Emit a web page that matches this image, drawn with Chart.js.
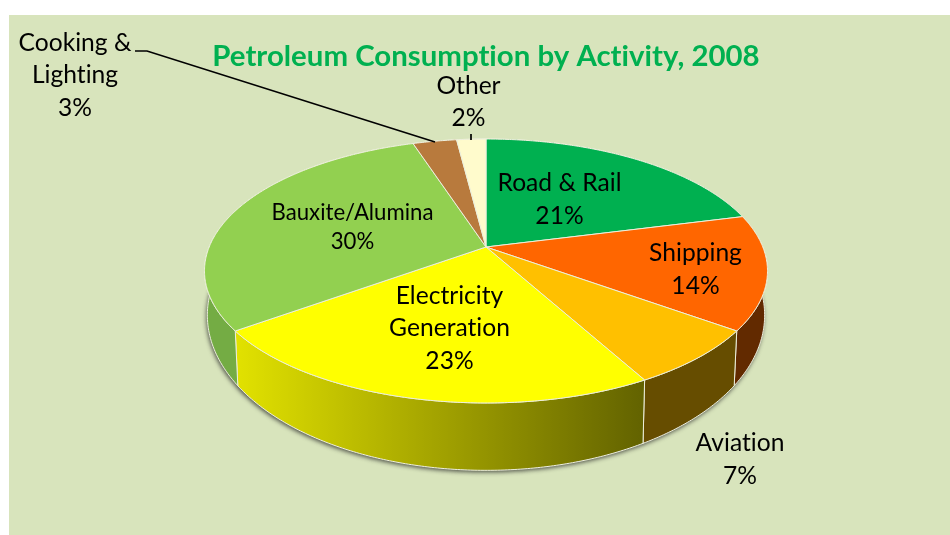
<!DOCTYPE html>
<html>
<head>
<meta charset="utf-8">
<script src="https://cdn.jsdelivr.net/npm/chart.js@4"></script>
<style>
    body { margin: 0; background: #fff; }
    #panel { position: absolute; left: 9px; top: 15px; width: 941px; height: 520px; background: #D8E4BC; }
    #chart { position: absolute; left: 0; top: 0; }
</style>
</head>
<body>
<div id="panel"></div>
<canvas id="chart" width="950" height="535"></canvas>
<script>
const categories = ['Road & Rail', 'Shipping', 'Aviation', 'Electricity Generation', 'Bauxite/Alumina', 'Cooking & Lighting', 'Other'];
const shares = [21, 14, 7, 23, 30, 3, 2];
const topColors = ['#00B050', '#FF6600', '#FFC000', '#FFFF00', '#92D050', '#B87A3D', '#FFFBCC'];
const wallColors = ['#005828', '#622A00', '#664D00', ['#E2E200', '#626200'], '#74AC44', '#5C3D1E', '#807D66'];
const labelLines = [['Road & Rail'], ['Shipping'], ['Aviation'], ['Electricity', 'Generation'], ['Bauxite/Alumina'], ['Cooking &', 'Lighting'], ['Other']];
const labelAnchors = [[559.5, 183, 33], [695.5, 253, 33], [740, 443, 33], [449.5, 296, 32.5], [352.5, 213, 29], [75, 43, 32.5], [468.5, 86, 32]];
const labelSizes = [24.6, 24.6, 24.6, 24.6, 22.2, 24.6, 24.6];

// perspective projection of the pie disc, top face and bottom face
const topFace = { cx: 486, cy: 247, rx: 276.8, ry: 127.6, k: 0.1818 };
const bottomFace = { cx: 486, cy: 287, rx: 274, ry: 150, k: 0.1818 };

function project(face, a) {
    const u = Math.cos(a), v = Math.sin(a), d = 1 - face.k * v;
    return [face.cx + face.rx * u / d, face.cy + face.ry * v / d];
}

function arcPoints(face, start, end) {
    const pts = [];
    const n = Math.max(2, Math.ceil((end - start) / 0.01));
    for (let i = 0; i <= n; i++) {
        pts.push(project(face, start + (end - start) * i / n));
    }
    return pts;
}

function tracePath(ctx, pts) {
    ctx.beginPath();
    pts.forEach((p, i) => i ? ctx.lineTo(p[0], p[1]) : ctx.moveTo(p[0], p[1]));
    ctx.closePath();
}

const tiltedPie = {
    id: 'tiltedPie',
    beforeDraw(chart) {
        // tiny spacing turns off the "ti" ligature Lato would use
        chart.ctx.letterSpacing = '0.01px';
    },
    beforeDatasetDraw(chart, args) {
        const ctx = chart.ctx;
        const arcs = args.meta.data;
        const edge = '#EDEFDC';
        ctx.save();
        ctx.lineJoin = 'round';

        // soft shadow under the whole pie
        ctx.save();
        ctx.shadowColor = 'rgba(40,40,40,0.75)';
        ctx.shadowBlur = 4;
        ctx.shadowOffsetX = -1;
        ctx.shadowOffsetY = 2;
        ctx.fillStyle = '#888';
        tracePath(ctx, arcPoints(bottomFace, 0, Math.PI * 2));
        ctx.fill();
        ctx.restore();

        arcs.forEach((arc, i) => {
            const top = arcPoints(topFace, arc.startAngle, arc.endAngle);
            const bottom = arcPoints(bottomFace, arc.startAngle, arc.endAngle).reverse();
            let fill = wallColors[i];
            if (Array.isArray(fill)) {
                const g = ctx.createLinearGradient(top[top.length - 1][0], 0, top[0][0], 0);
                g.addColorStop(0, fill[0]);
                g.addColorStop(1, fill[1]);
                fill = g;
            }
            tracePath(ctx, top.concat(bottom));
            ctx.fillStyle = fill;
            ctx.fill();
            ctx.strokeStyle = edge;
            ctx.lineWidth = 1;
            ctx.stroke();
        });

        arcs.forEach((arc, i) => {
            const pts = [[topFace.cx, topFace.cy]].concat(arcPoints(topFace, arc.startAngle, arc.endAngle));
            tracePath(ctx, pts);
            ctx.fillStyle = topColors[i];
            ctx.fill();
            ctx.strokeStyle = edge;
            ctx.lineWidth = 1;
            ctx.stroke();
        });
        ctx.restore();
        return false;
    },
    afterDatasetsDraw(chart) {
        const ctx = chart.ctx;
        ctx.save();

        // leader lines
        ctx.strokeStyle = '#000';
        ctx.lineWidth = 1.7;
        ctx.beginPath();
        ctx.moveTo(135, 51);
        ctx.lineTo(147, 51);
        ctx.lineTo(435, 142);
        ctx.moveTo(471, 134);
        ctx.lineTo(471, 140);
        ctx.stroke();

        ctx.fillStyle = '#000';
        ctx.textAlign = 'center';
        ctx.textBaseline = 'middle';
        shares.forEach((share, i) => {
            const [x, y, step] = labelAnchors[i];
            const lines = labelLines[i].concat(share + '%');
            ctx.font = labelSizes[i] + 'px Lato';
            lines.forEach((line, j) => ctx.fillText(line, x, y + j * step));
        });
        ctx.restore();
    }
};

new Chart(document.getElementById('chart'), {
    type: 'pie',
    data: {
        labels: categories,
        datasets: [{ data: shares, backgroundColor: topColors }]
    },
    options: {
        responsive: false,
        animation: false,
        events: [],
        layout: { padding: { left: 22, top: 39 } },
        plugins: {
            legend: { display: false },
            tooltip: { enabled: false },
            title: {
                display: true,
                text: 'Petroleum Consumption by Activity, 2008',
                color: '#00B050',
                font: { family: 'Lato', size: 29.4, weight: 'bold' },
                padding: 0
            }
        }
    },
    plugins: [tiltedPie]
});
</script>
</body>
</html>
